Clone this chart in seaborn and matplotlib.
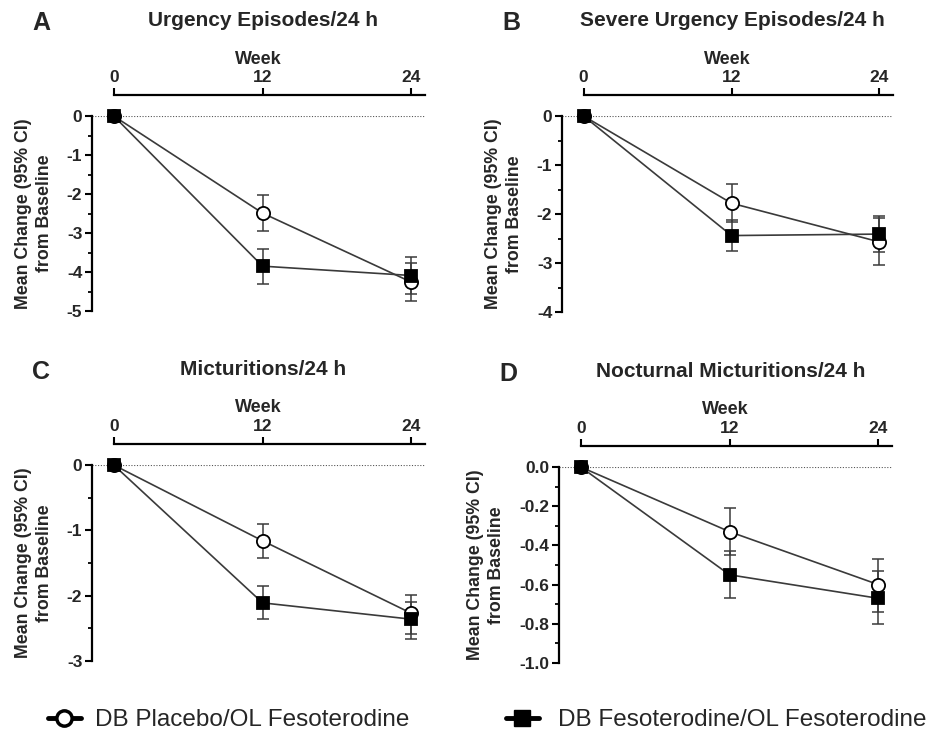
import matplotlib
matplotlib.use("Agg")
import matplotlib.pyplot as plt
from matplotlib.lines import Line2D
from matplotlib.ticker import MultipleLocator, FormatStrFormatter
import seaborn as sns
import pandas as pd

weeks = [0, 12, 24]

titles = ["Urgency Episodes/24 h", "Severe Urgency Episodes/24 h",
          "Micturitions/24 h", "Nocturnal Micturitions/24 h"]
letters = ["A", "B", "C", "D"]

# mean change and 95% CI, per panel
placebo_mean = [[0, -2.49, -4.26], [0, -1.78, -2.57], [0, -1.16, -2.27], [0, -0.33, -0.60]]
placebo_hi = [[0, -2.02, -3.78], [0, -1.38, -2.08], [0, -0.90, -1.99], [0, -0.21, -0.47]]
placebo_lo = [[0, -2.96, -4.75], [0, -2.17, -3.05], [0, -1.43, -2.59], [0, -0.45, -0.74]]
feso_mean = [[0, -3.85, -4.09], [0, -2.44, -2.41], [0, -2.11, -2.36], [0, -0.55, -0.67]]
feso_hi = [[0, -3.41, -3.62], [0, -2.12, -2.04], [0, -1.85, -2.09], [0, -0.43, -0.53]]
feso_lo = [[0, -4.30, -4.56], [0, -2.76, -2.78], [0, -2.35, -2.66], [0, -0.67, -0.80]]

y_min = [-5, -4, -3, -1.0]
y_major = [1, 1, 1, 0.2]
y_minor = [0.5, 0.5, 0.5, 0.1]
y_fmt = ["%d", "%d", "%d", "%.1f"]

labels = ["DB Placebo/OL Fesoterodine", "DB Fesoterodine/OL Fesoterodine"]

sns.set_theme(style="ticks")
plt.rcParams["font.family"] = ["Liberation Sans", "DejaVu Sans"]
plt.rcParams["axes.unicode_minus"] = False

W, H = 934, 732
fig = plt.figure(figsize=(W / 100, H / 100), dpi=100)

# axes boxes in pixels: left, top(y=0), right, bottom
boxes = [(92, 116, 425, 311), (562, 116, 893, 312),
         (92, 465, 425, 661), (559, 467, 892, 663)]

line_col = "#3a3a3a"

for i in range(4):
    l, t, r, b = boxes[i]
    ax = fig.add_axes([l / W, 1 - b / H, (r - l) / W, (b - t) / H])

    df = pd.DataFrame({"week": weeks * 2,
                       "change": placebo_mean[i] + feso_mean[i],
                       "group": [labels[0]] * 3 + [labels[1]] * 3})

    for g, lo, hi, mk, fc in [(labels[0], placebo_lo[i], placebo_hi[i], "o", "white"),
                              (labels[1], feso_lo[i], feso_hi[i], "s", "black")]:
        sub = df[df.group == g]
        m = sub["change"].tolist()
        ax.errorbar(weeks, m, yerr=[[a - c for a, c in zip(m, lo)], [c - a for a, c in zip(m, hi)]],
                    fmt="none", ecolor=line_col, elinewidth=1.1, capsize=4, capthick=1.1,
                    clip_on=False, zorder=2)
        sns.lineplot(data=sub, x="week", y="change", ax=ax, color=line_col, linewidth=1.2,
                     marker=mk, markersize=9.5 if mk == "o" else 8.5, markerfacecolor=fc,
                     markeredgecolor="black", markeredgewidth=1.3, clip_on=False, zorder=3)

    ax.axhline(0, color="#555555", ls=(0, (1, 1.5)), lw=0.8, zorder=1)

    ax.set_xlim(-1.75, 25.1)
    ax.set_ylim(y_min[i], 0)
    ax.xaxis.tick_top()
    ax.xaxis.set_label_position("top")
    ax.set_xticks(weeks)
    ax.set_xlabel("Week", fontsize=13, fontweight="bold", labelpad=5)
    ax.set_ylabel("Mean Change (95% CI)\nfrom Baseline", fontsize=12.8, fontweight="bold",
                  labelpad=10, linespacing=1.3)
    ax.yaxis.set_major_locator(MultipleLocator(y_major[i]))
    ax.yaxis.set_minor_locator(MultipleLocator(y_minor[i]))
    ax.yaxis.set_major_formatter(FormatStrFormatter(y_fmt[i]))

    ax.spines["right"].set_visible(False)
    ax.spines["bottom"].set_visible(False)
    ax.spines["top"].set_position(("outward", 15))
    ax.spines["top"].set_bounds(0, 25.1)
    ax.spines["left"].set_bounds(y_min[i], 0)
    for s in ["top", "left"]:
        ax.spines[s].set_linewidth(1.6)
        ax.spines[s].set_color("black")
    ax.tick_params(axis="both", which="major", direction="out", length=5, width=1.5,
                   labelsize=12.5, pad=2, color="black")
    ax.tick_params(axis="y", which="minor", direction="out", length=3, width=1.3, color="black")
    for lab in ax.get_xticklabels() + ax.get_yticklabels():
        lab.set_fontweight("bold")
    ax.grid(False)
    ax.set_facecolor("white")
    if ax.get_legend():
        ax.get_legend().remove()

    cx = (l + r) / 2 + 5
    fig.text(cx / W, 1 - 21 / H - (t - 116) / H, titles[i], ha="center", va="center",
             fontsize=15, fontweight="bold")
    fig.text((l - 51) / W, 1 - 23 / H - (t - 116) / H, letters[i], ha="center", va="center",
             fontsize=18, fontweight="bold")

handles = [Line2D([], [], color="black", lw=3.5, marker="o", markersize=11,
                  markerfacecolor="white", markeredgecolor="black", markeredgewidth=2.5),
           Line2D([], [], color="black", lw=3.5, marker="s", markersize=11,
                  markerfacecolor="black", markeredgecolor="black")]
for h, lab, x0, pad in zip(handles, labels, [48, 506], [0.6, 0.8]):
    fig.legend([h], [lab], loc="center left", bbox_to_anchor=(x0 / W, 1 - 720 / H),
               frameon=False, fontsize=17.5, handlelength=1.35, handletextpad=pad,
               borderpad=0, borderaxespad=0)

fig.savefig("out.png", dpi=100, facecolor="white")
